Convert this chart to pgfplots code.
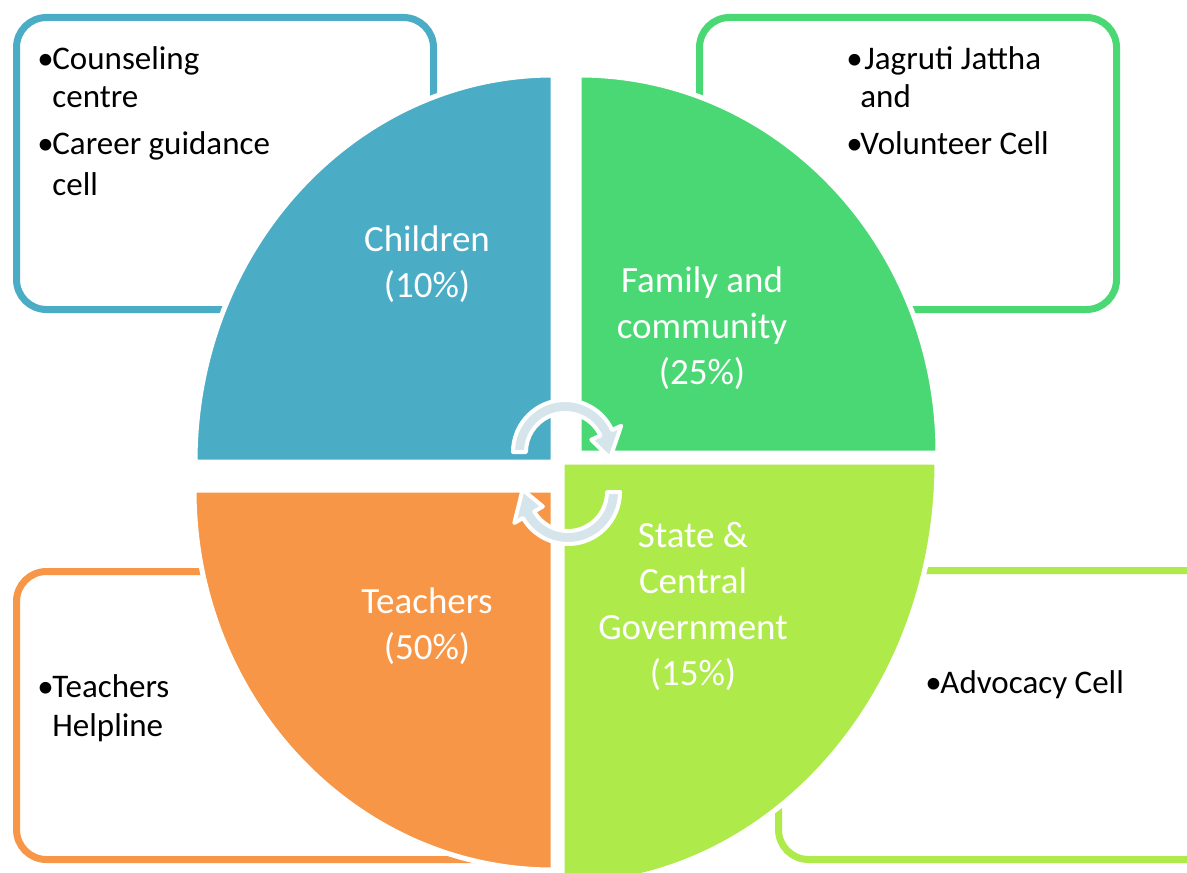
\documentclass[border=0pt]{standalone}
\usepackage{pgfplots}
\pgfplotsset{compat=1.18}
\usepackage{fontspec}
\setmainfont{Carlito}
\definecolor{cblue}{HTML}{4BACC6}
\definecolor{cgreen}{HTML}{4AD874}
\definecolor{clime}{HTML}{AEEA4A}
\definecolor{corange}{HTML}{F79646}
\definecolor{carrow}{HTML}{D6E4EC}
\begin{document}
\begin{tikzpicture}
\begin{axis}[scale only axis, width=593.5pt, height=436pt,
  xmin=0, xmax=1187, ymin=0, ymax=872, y dir=reverse,
  hide axis, clip=true]
% boxes
\draw[cblue, line width=3.5pt, rounded corners=15pt, fill=white] (axis cs:16.5,17.5) rectangle (axis cs:433.5,309.5);
\draw[cgreen, line width=3.5pt, rounded corners=15pt, fill=white] (axis cs:699.5,17.5) rectangle (axis cs:1116.5,309.5);
\draw[corange, line width=3.5pt, rounded corners=15pt, fill=white] (axis cs:16.5,571.5) rectangle (axis cs:550,859.5);
\draw[clime, line width=3.5pt, rounded corners=15pt, fill=white] (axis cs:1187,570.5) -- (axis cs:778.5,570.5) -- (axis cs:778.5,859.5) -- (axis cs:1187,859.5);
% sectors
\filldraw[fill=cblue, draw=white, line width=2.5pt] (axis cs:553,462) -- ++(0pt,193.5pt) arc[start angle=90, end angle=180, x radius=179pt, y radius=193.5pt] -- cycle;
\filldraw[fill=cgreen, draw=white, line width=2.5pt] (axis cs:579,453) -- ++(179.5pt,0pt) arc[start angle=0, end angle=90, x radius=179.5pt, y radius=189pt] -- cycle;
\filldraw[fill=clime, draw=white, line width=2.5pt] (axis cs:562,462) -- ++(0pt,-211.5pt) arc[start angle=270, end angle=360, x radius=187.5pt, y radius=211.5pt] -- cycle;
\filldraw[fill=corange, draw=white, line width=2.5pt] (axis cs:553,490) -- ++(-179.5pt,0pt) arc[start angle=180, end angle=270, x radius=179.5pt, y radius=190pt] -- cycle;
% arrows
\begin{scope}[shift={(axis cs:565,452)}]
\filldraw[fill=carrow, draw=white, line width=2pt, line join=round] (180:26pt) arc[start angle=180, end angle=25, radius=26pt] -- (25:31pt) -- (-8:22.75pt) -- (25:14.5pt) -- (25:19.5pt) arc[start angle=25, end angle=180, radius=19.5pt] -- cycle;
\end{scope}
\begin{scope}[shift={(axis cs:568,492)}]
\filldraw[fill=carrow, draw=white, line width=2pt, line join=round] (0:26pt) arc[start angle=0, end angle=-150, radius=26pt] -- (-150:31pt) -- (-183:22.75pt) -- (-150:14.5pt) -- (-150:19.5pt) arc[start angle=-150, end angle=0, radius=19.5pt] -- cycle;
\end{scope}
% sector labels
\begin{scope}[every node/.style={white, align=center, font=\fontsize{18.5}{23}\selectfont, inner sep=0pt}]
\node at (axis cs:427,264) {Children\\(10\%)};
\node at (axis cs:702,328) {Family and\\community\\(25\%)};
\node at (axis cs:693,606) {State \&\\Central\\Government\\(15\%)};
\node at (axis cs:427,626) {Teachers\\(50\%)};
\end{scope}
% box texts
\begin{scope}[every node/.style={black, anchor=base west, font=\fontsize{16.5}{19}\selectfont, inner sep=0pt}]
\node at (axis cs:37,70) {•};
\node at (axis cs:52,70) {Counseling};
\node at (axis cs:52,108) {centre};
\node at (axis cs:37,155) {•};
\node at (axis cs:52,155) {Career guidance};
\node at (axis cs:52,195) {cell};
\node at (axis cs:846,70) {•};
\node at (axis cs:864,70) {Jagruti Jattha};
\node at (axis cs:860,108) {and};
\node at (axis cs:846,155) {•};
\node at (axis cs:860,155) {Volunteer Cell};
\node at (axis cs:37,697) {•};
\node at (axis cs:52,697) {Teachers};
\node at (axis cs:52,736) {Helpline};
\node at (axis cs:925,693) {•};
\node at (axis cs:940,693) {Advocacy Cell};
\end{scope}
\end{axis}
\pgfresetboundingbox
\useasboundingbox (current axis.south west) rectangle (current axis.north east);
\end{tikzpicture}
\end{document}
